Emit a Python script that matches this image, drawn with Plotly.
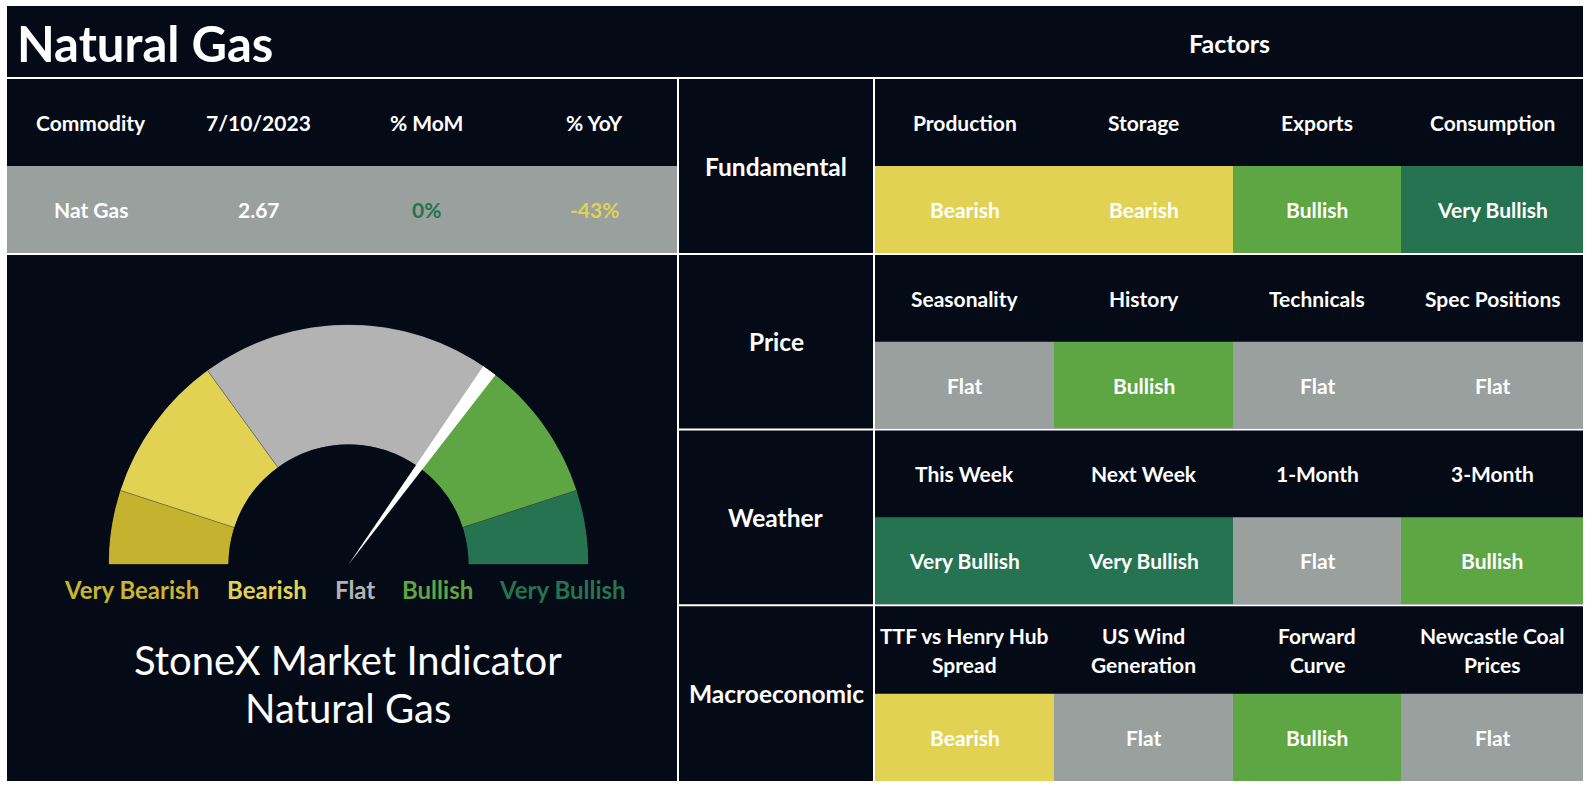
import plotly.graph_objects as go

# ---- data ----
title = "Natural Gas"
table_headers = ["Commodity", "7/10/2023", "% MoM", "% YoY"]
table_values = ["Nat Gas", "2.67", "0%", "-43%"]
table_value_colors = ["#ffffff", "#ffffff", "#267352", "#e1d254"]

factor_groups = ["Fundamental", "Price", "Weather", "Macroeconomic"]
factor_names = [
    ["Production", "Storage", "Exports", "Consumption"],
    ["Seasonality", "History", "Technicals", "Spec Positions"],
    ["This Week", "Next Week", "1-Month", "3-Month"],
    ["TTF vs Henry Hub<br>Spread", "US Wind<br>Generation", "Forward<br>Curve", "Newcastle Coal<br>Prices"],
]
factor_signals = [
    ["Bearish", "Bearish", "Bullish", "Very Bullish"],
    ["Flat", "Bullish", "Flat", "Flat"],
    ["Very Bullish", "Very Bullish", "Flat", "Bullish"],
    ["Bearish", "Flat", "Bullish", "Flat"],
]

gauge_labels = ["Very Bearish", "Bearish", "Flat", "Bullish", "Very Bullish"]
gauge_sizes = [10, 20, 40, 20, 10]   # share of the half dial
gauge_value = 70                      # needle position, 0-100
needle_size = 2

# ---- styling ----
BG = "#050b16"
FONT = "Lato, Open Sans, sans-serif"
signal_colors = {
    "Very Bearish": "#c5b22e",
    "Bearish": "#e1d254",
    "Flat": "#99a09e",
    "Bullish": "#5ea543",
    "Very Bullish": "#267352",
}
dial_colors = ["#c5b22e", "#e1d254", "#b3b3b3", "#5ea543", "#267352"]
label_colors = ["#c8b530", "#e1d254", "#b3b3b3", "#5ea543", "#267352"]

W, H = 1592, 788
X0, X1, Y0, Y1 = 7, 1583, 6, 781
TITLE_BOTTOM = 78
LEFT_END = 678
CAT_END = 874
row_tops = [79, 255, 430.5, 606.5]
row_bottoms = [253, 428.5, 604, 781]
col_edges = [875, 1054, 1233, 1401, 1583]
left_cols = [X0 + i * (LEFT_END - X0) / 4 for i in range(5)]

shapes = []
annotations = []


def rect(x0, y0, x1, y1, color):
    shapes.append(dict(type="rect", xref="x", yref="y", x0=x0, y0=y0, x1=x1, y1=y1,
                       fillcolor=color, line=dict(width=0), layer="below"))


def hline(y, x0, x1):
    shapes.append(dict(type="line", xref="x", yref="y", x0=x0, x1=x1, y0=y, y1=y,
                       line=dict(color="white", width=2), layer="below"))


def vline(x, y0, y1):
    shapes.append(dict(type="line", xref="x", yref="y", x0=x, x1=x, y0=y0, y1=y1,
                       line=dict(color="white", width=2), layer="below"))


def text(x, y, s, size, color="white", anchor="center", bold=True):
    lines = s.split("<br>")
    step = 29
    start = y - step * (len(lines) - 1) / 2
    for i, ln in enumerate(lines):
        annotations.append(dict(x=x, y=start + i * step, xref="x", yref="y", text=ln,
                                showarrow=False, xanchor=anchor, yanchor="middle",
                                font=dict(family=FONT, size=size, color=color,
                                          weight="bold" if bold else "normal")))


# panel
rect(X0, Y0, X1, Y1, BG)

# left table
mid0 = (row_tops[0] + row_bottoms[0]) / 2 - 0.5
rect(X0, mid0 + 0.5, LEFT_END - 1, row_bottoms[0], "#99a09e")
for i in range(4):
    cx = (left_cols[i] + left_cols[i + 1]) / 2
    text(cx, (row_tops[0] + mid0) / 2, table_headers[i], 21)
    text(cx, (mid0 + row_bottoms[0]) / 2, table_values[i], 21, table_value_colors[i])

# factor grid
for r in range(4):
    top, bot = row_tops[r], row_bottoms[r]
    mid = top + (bot - top) / 2
    text((LEFT_END + CAT_END) / 2, mid, factor_groups[r], 24.5)
    for c in range(4):
        rect(col_edges[c], mid, col_edges[c + 1], bot, signal_colors[factor_signals[r][c]])
        cx = (col_edges[c] + col_edges[c + 1]) / 2
        text(cx, (top + mid) / 2, factor_names[r][c], 21)
        text(cx, (mid + bot) / 2, factor_signals[r][c], 21)

# grid lines
hline(TITLE_BOTTOM, X0, X1)
hline(254, X0, X1)
for r in range(1, 4):
    hline((row_bottoms[r - 1] + row_tops[r]) / 2, LEFT_END, X1)
vline(LEFT_END, TITLE_BOTTOM, Y1)
vline(CAT_END, TITLE_BOTTOM, Y1)

# headings
text(15, 43, title, 49, anchor="left")
text((col_edges[0] + col_edges[-1]) / 2, 43, "Factors", 25)

# gauge labels and caption
label_x = [131, 267, 355, 437, 562]
for lx, lab, col in zip(label_x, gauge_labels, label_colors):
    text(lx, 589, lab, 24, col)
annotations.append(dict(x=348, y=660, xref="x", yref="y", text="StoneX Market Indicator",
                        showarrow=False, font=dict(family=FONT, size=40, color="white")))
annotations.append(dict(x=348, y=708, xref="x", yref="y", text="Natural Gas",
                        showarrow=False, font=dict(family=FONT, size=40, color="white")))

# ---- gauge as half polar dial ----
scale = 180 / sum(gauge_sizes)
theta, width, acc = [], [], 0
for s in gauge_sizes:
    theta.append((acc + s / 2) * scale)
    width.append(s * scale)
    acc += s

cx, cy, R = 348.5, 564.5, 240
dom_x = [(cx - R) / W, (cx + R) / W]
dom_y = [(H - cy) / H, (H - cy + R) / H]

fig = go.Figure()
fig.add_trace(go.Barpolar(r=[1] * len(gauge_sizes), theta=theta, width=width,
                          marker=dict(color=dial_colors, line=dict(color="rgba(70,70,70,0.6)", width=0.6)),
                          hoverinfo="skip", subplot="polar"))
fig.add_trace(go.Barpolar(r=[1], theta=[gauge_value * scale], width=[needle_size * scale],
                          marker=dict(color="white", line=dict(width=0)),
                          hoverinfo="skip", subplot="polar2"))

polar_common = dict(
    domain=dict(x=dom_x, y=dom_y), sector=[0, 180], bgcolor="rgba(0,0,0,0)",
    angularaxis=dict(visible=False, rotation=180, direction="clockwise", showgrid=False),
    radialaxis=dict(visible=False, range=[0, 1], showgrid=False),
)

fig.update_layout(
    width=W, height=H, margin=dict(l=0, r=0, t=0, b=0),
    paper_bgcolor="white", plot_bgcolor="rgba(0,0,0,0)", showlegend=False,
    xaxis=dict(range=[0, W], visible=False, fixedrange=True),
    yaxis=dict(range=[H, 0], visible=False, fixedrange=True),
    polar=dict(hole=0.5, **polar_common),
    polar2=dict(hole=0, **polar_common),
    shapes=shapes, annotations=annotations,
)

# page has a default 8px body margin; drop it so the figure fills the window
fig.write_html("out.html", config={"staticPlot": True},
               post_script="document.body.style.margin='0';document.body.style.overflow='hidden';")
